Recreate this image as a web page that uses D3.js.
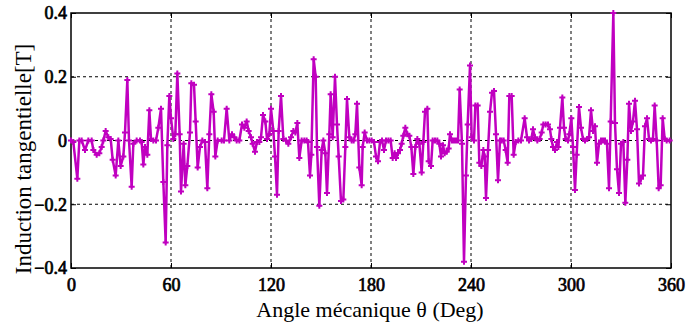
<!DOCTYPE html>
<html>
<head>
<meta charset="utf-8">
<script src="https://cdn.jsdelivr.net/npm/d3@7"></script>
<style>
  body { margin: 0; background: #fff; }
</style>
</head>
<body>
<script>
// angle (deg) / tangential induction (T)
const angles = [0, 1.4, 3.8, 5, 6.4, 8.4, 10.4, 12.4, 13.4, 15.4, 17, 18.4, 19.4, 20.8, 22.4, 23.8, 25, 26.8, 28.4, 29.8,
    31.4, 32.4, 33.8, 34.8, 36.4, 37.4, 39.4, 41.4, 42.4, 43.4, 44.4, 45.8, 47, 48, 49.4, 51, 52.4, 54, 55.4, 56.8,
    57.8, 59, 60, 61.4, 62.6, 63.8, 65.2, 66, 67.6, 68.6, 69.8, 71.4, 72.2, 73.8, 74.8, 76, 77.4, 78.8, 80.4, 81.8,
    83, 84.2, 85.6, 86.6, 88, 90.4, 91.8, 93.4, 95, 96.6, 98, 99.4, 101, 102.6, 104, 105.4, 106.6, 108, 109, 110.4,
    111.6, 113, 114, 115.2, 116.6, 117.6, 119, 120, 121.4, 122.4, 123.6, 124.6, 126, 127.4, 129, 130.4, 132, 133.4, 134.6, 135.8,
    137, 138.4, 140, 141.4, 142.2, 143.4, 144.2, 145.6, 146.8, 147.6, 149, 150.4, 151.4, 152.6, 153.6, 155, 155.8, 157, 158.4, 159.6,
    160.6, 162, 163.4, 164.6, 165.6, 167, 168.4, 169.6, 170.6, 171.6, 173, 174.4, 175, 176.2, 177.6, 179, 180.4, 181.8, 183, 184.2,
    185.4, 186.6, 187.8, 189, 190.4, 191.8, 193, 194.2, 195, 196.2, 197.4, 198.4, 199.4, 200.6, 201.8, 203, 204.2, 205.4, 206.6, 207.8,
    209, 210.4, 211.4, 212.4, 213.8, 214.6, 216, 217, 218.4, 219.8, 221, 222, 223.2, 224.2, 225.4, 226.6, 227.4, 228.6, 229.8, 231,
    232.2, 233.2, 234.6, 235.8, 237, 238, 239.4, 240.4, 241.8, 242.6, 244, 245, 246.2, 247.4, 248.2, 249, 250.2, 251.4, 252.6, 253.8,
    255, 256.2, 257.4, 258.4, 259.6, 260.8, 262, 263, 264.4, 265.6, 266.8, 268.4, 270, 272.2, 273.6, 274.8, 276.2, 277.2, 278.4, 279.8,
    281.2, 282.4, 283.4, 284.8, 286.2, 287.4, 288.2, 289.2, 290.4, 291.6, 292.4, 293.4, 294.8, 295.8, 296.8, 298.2, 299, 300.2, 301.2, 302.4,
    303.4, 304.8, 306, 307.2, 308.4, 309.8, 310.8, 312, 313.2, 314.4, 315.6, 316.8, 318, 319.2, 320.4, 321.6, 322.8, 323.8, 325.4, 326.4,
    327.6, 328.8, 330, 331.4, 332.6, 333.8, 334.8, 336, 337.2, 338.4, 339.6, 340.8, 342, 343.2, 344.4, 345.6, 346.8, 348, 349.2, 350.2,
    351.4, 352.6, 353.8, 355, 356.2, 357.4, 359.2]

const induction = [0, -0.005, -0.12, 0, 0, -0.03, 0, 0, -0.03, -0.045, -0.04, -0.02, 0, 0.03, 0.01, 0.005, -0.06, -0.11, 0, -0.08,
    -0.05, 0.025, 0.19, 0, -0.145, -0.01, 0, 0, -0.005, -0.075, -0.02, -0.045, 0.095, 0.005, 0, 0, 0.04, 0.1, -0.13, -0.32,
    -0.015, 0.14, 0.07, 0.005, 0.02, 0.21, 0.02, -0.16, -0.01, -0.14, -0.08, 0.025, 0.18, 0.175, 0.06, -0.085, -0.02, 0, -0.005, -0.15,
    0.02, 0.145, 0.09, -0.05, 0, 0, 0, 0.1, 0, 0.02, 0.01, 0, 0, 0.05, 0.04, 0.06, 0.03, 0.01, -0.01, -0.035,
    -0.005, -0.005, 0.01, 0.08, 0.06, 0.005, 0.02, 0.1, 0.03, -0.05, -0.17, 0.03, 0.14, 0.005, 0, -0.01, 0.01, 0.03, 0.025, 0.055,
    -0.055, 0, 0, 0, -0.005, -0.11, -0.045, 0.255, 0.2, -0.02, -0.205, -0.03, 0, -0.04, -0.165, 0.02, 0.145, 0.01, 0.2, 0.05,
    -0.05, -0.19, -0.185, -0.02, 0.13, 0.01, 0, 0, 0.02, 0.115, -0.085, -0.14, -0.02, 0.025, 0, 0, 0, -0.005, -0.05, -0.065,
    -0.005, 0, -0.03, 0, 0, 0, -0.055, -0.04, -0.055, -0.04, -0.03, -0.01, 0.015, 0.04, 0.02, 0.015, -0.02, -0.105, -0.02, 0.005,
    -0.01, -0.1, -0.005, 0.09, 0.1, -0.065, -0.08, 0, 0, 0, -0.01, -0.05, -0.015, -0.04, -0.035, -0.025, 0.02, 0, 0, 0,
    0, 0.16, -0.01, -0.38, -0.11, 0.05, 0.235, 0.01, 0, 0.11, 0.11, -0.07, -0.08, -0.03, -0.05, -0.18, -0.03, 0.09, 0.15, 0.155,
    0.02, -0.125, 0, 0, 0, -0.03, -0.07, 0.14, 0.14, -0.045, -0.005, 0, 0, 0.07, 0.01, 0, 0.005, 0.035, 0.01, 0,
    0.005, 0.025, 0.05, 0.05, 0.05, 0.035, 0.005, -0.02, -0.03, -0.005, -0.02, 0.04, 0.135, 0.04, 0.005, 0, 0.02, 0.07, -0.02, -0.155,
    -0.045, 0.105, 0.04, 0.005, 0, 0.005, 0.01, 0.095, 0.03, 0.045, -0.07, -0.01, 0, 0, 0, -0.01, -0.15, 0.06, 0.4, 0.055,
    -0.09, -0.165, -0.01, -0.005, -0.195, -0.06, 0.115, 0.03, 0.06, 0.125, 0.035, -0.135, -0.12, -0.11, 0.045, 0.07, 0.005, 0, 0.005, 0.11,
    0, -0.15, -0.14, 0.07, 0.005, 0, 0]

const xTicks = [0, 60, 120, 180, 240, 300, 360]
const yTicks = [-0.4, -0.2, 0, 0.2, 0.4]
const yTickLabels = ["\u22120.4", "\u22120.2", "0", "0.2", "0.4"]

const serif = '"Liberation Serif", "Times New Roman", serif'
const W = 687, H = 329
const margin = { top: 13, right: 16, bottom: 61, left: 71 }
const width = W - margin.left - margin.right,
    height = H - margin.top - margin.bottom

const x = d3.scaleLinear().domain([0, 360]).range([0, width])
const y = d3.scaleLinear().domain([-0.4, 0.4]).range([height, 0])

const svg = d3.select("body").append("svg")
    .attr("width", W)
    .attr("height", H)
const g = svg.append("g")
    .attr("transform", "translate(" + margin.left + "," + margin.top + ")")

// dashed grid
g.append("g").selectAll("line")
    .data(xTicks.slice(1, -1)).enter()
    .append("line")
    .attr("x1", d => x(d)).attr("x2", d => x(d))
    .attr("y1", 0).attr("y2", height)
    .attr("stroke", "#000").attr("stroke-width", 1).attr("stroke-dasharray", "3,3")
g.append("g").selectAll("line")
    .data(yTicks.slice(1, -1)).enter()
    .append("line")
    .attr("x1", 0).attr("x2", width)
    .attr("y1", d => y(d)).attr("y2", d => y(d))
    .attr("stroke", "#000").attr("stroke-width", 1).attr("stroke-dasharray", "3,3")

// axes with inward ticks
g.append("g")
    .attr("transform", "translate(0," + height + ")")
    .call(d3.axisBottom(x).tickValues(xTicks).tickSizeInner(-5).tickSizeOuter(0).tickPadding(10))
g.append("g")
    .call(d3.axisTop(x).tickValues(xTicks).tickSizeInner(-5).tickSizeOuter(0).tickFormat(""))
g.append("g")
    .call(d3.axisLeft(y).tickValues(yTicks).tickSizeInner(-5).tickSizeOuter(0).tickPadding(4)
        .tickFormat((d, i) => yTickLabels[i]))
g.append("g")
    .attr("transform", "translate(" + width + ",0)")
    .call(d3.axisRight(y).tickValues(yTicks).tickSizeInner(-5).tickSizeOuter(0).tickFormat(""))
g.selectAll(".domain").remove()
g.selectAll(".tick line").attr("stroke", "#000").attr("stroke-width", 1)
// serif digits thickened with a thin stroke to look bold
g.selectAll(".tick text")
    .attr("fill", "#000")
    .attr("stroke", "#000")
    .attr("stroke-width", 0.7)
    .attr("font-family", serif)
    .attr("font-size", 18)

g.append("rect")
    .attr("width", width).attr("height", height)
    .attr("fill", "none").attr("stroke", "#000").attr("stroke-width", 1.5)

// series
const pts = angles.map((a, i) => ({ x: a, y: induction[i] }))
const line = d3.line().x(d => x(d.x)).y(d => y(d.y))
g.append("path")
    .datum(pts)
    .attr("fill", "none")
    .attr("stroke", "#c000c0")
    .attr("stroke-width", 2.5)
    .attr("stroke-linejoin", "round")
    .attr("d", line)
g.append("g").selectAll("path")
    .data(pts).enter()
    .append("path")
    .attr("transform", d => "translate(" + x(d.x) + "," + y(d.y) + ")")
    .attr("d", d3.symbol(d3.symbolCross, 20))
    .attr("fill", "#c000c0")

// axis titles
svg.append("text")
    .attr("text-anchor", "middle")
    .attr("x", 370)
    .attr("y", 317)
    .attr("font-family", serif)
    .attr("font-size", 22)
    .text("Angle mécanique θ (Deg)")
svg.append("text")
    .attr("text-anchor", "middle")
    .attr("transform", "translate(31,159) rotate(-90)")
    .attr("font-family", serif)
    .attr("font-size", 23)
    .text("Induction tangentielle[T]")
</script>
</body>
</html>
